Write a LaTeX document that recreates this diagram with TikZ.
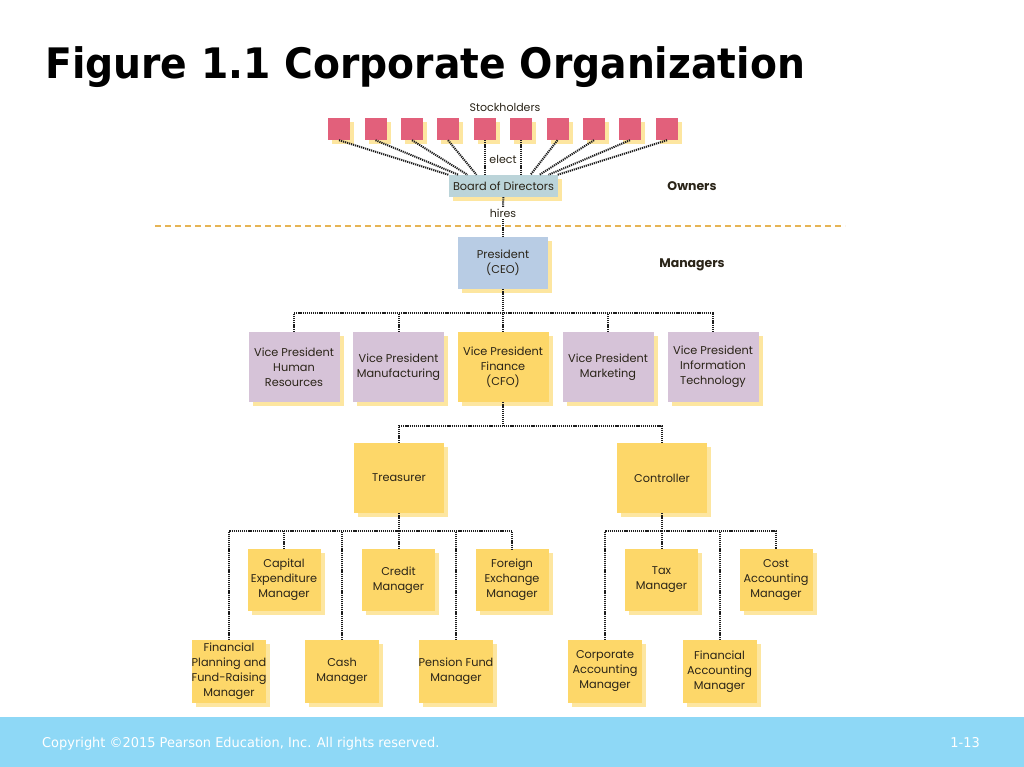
\documentclass[tikz,border=0pt]{standalone}
\usepackage{fontspec}
\setmainfont{Poppins}
\newfontfamily\titlefont{DejaVu Sans}
\newfontfamily\footfont{DejaVu Sans}
\usetikzlibrary{shadows}
\definecolor{pinksq}{HTML}{E2607B}
\definecolor{bodc}{HTML}{BBD4D9}
\definecolor{presc}{HTML}{B8CCE4}
\definecolor{vpc}{HTML}{D6C3D8}
\definecolor{yel}{HTML}{FDD769}
\definecolor{shad}{HTML}{FDE6A0}
\definecolor{dotc}{HTML}{1E1E1E}
\definecolor{dashc}{HTML}{E6B455}
\definecolor{footc}{HTML}{8ED8F6}
\definecolor{txtc}{HTML}{2A2418}
\tikzset{
  box/.style={rectangle, inner sep=0pt, align=center, text=txtc,
    font=\fontsize{11.3}{15}\selectfont,
    drop shadow={shadow xshift=4pt, shadow yshift=-4pt, fill=shad, opacity=1}},
  sq/.style={box, fill=pinksq, minimum width=22pt, minimum height=22pt},
  yelbox/.style={box, fill=yel},
  vpbox/.style={box, fill=vpc, minimum width=91pt, minimum height=70pt},
  conn/.style={draw=dotc, line width=2pt, dash pattern=on 1.2pt off 0.9pt},
  lbl/.style={inner sep=1.5pt, text=txtc, font=\fontsize{11}{13}\selectfont},
  side/.style={inner sep=0pt, text=txtc, font=\fontsize{12.5}{14}\selectfont\bfseries},
  divider/.style={draw=dashc, line width=1.3pt, dash pattern=on 6pt off 4pt}
}
\begin{document}
\begin{tikzpicture}[x=1pt, y=-1pt]
\fill[white] (0,0) rectangle (1024,767);
\useasboundingbox (0,0) rectangle (1024,767);
% footer
\fill[footc] (0,717) rectangle (1024,767);
\node[anchor=base west, inner sep=0pt, text=white] (copy) at (42,747)
  {\scalebox{0.96}[1]{\footfont\fontsize{13.5}{14}\selectfont Copyright \textcopyright2015 Pearson Education, Inc. All rights reserved.}};
\node[anchor=base east, inner sep=0pt, text=white] (pg) at (980,747)
  {\scalebox{0.96}[1]{\footfont\fontsize{13.5}{14}\selectfont 1-13}};
% title
\node[anchor=base west, inner sep=0pt] (title) at (45,79)
  {\scalebox{0.935}[1]{\titlefont\fontsize{42}{44}\selectfont\bfseries Figure 1.1 Corporate Organization}};

% divider
\coordinate (dl) at (155,226);
\coordinate (dr) at (845,226);
\draw[divider] (dl) -- (dr);

% stockholders
\node[lbl] (stk) at (505,107) {Stockholders};
\foreach \i/\x in {1/339,2/375.5,3/412,4/448,5/485,6/521,7/557.5,8/594,9/630,10/667}
  \node[sq] (s\i) at (\x,129) {};
\node[box, fill=bodc, minimum width=109pt, minimum height=22pt] (bod) at (503.5,186) {Board of Directors};
\node[lbl] (elect) at (503,159) {elect};
\node[lbl] (hires) at (503,213) {hires};
\node[box, fill=presc, minimum width=90pt, minimum height=52pt] (pres) at (503,263) {President\\(CEO)};
\node[side] (own) at (692,186) {Owners};
\node[side] (mgr) at (692,265) {Managers};

\draw[conn] (s1.south) -- ([xshift=-55pt]bod.north);
\draw[conn] (s2.south) -- ([xshift=-45pt]bod.north);
\draw[conn] (s3.south) -- ([xshift=-36pt]bod.north);
\draw[conn] (s4.south) -- ([xshift=-27pt]bod.north);
\draw[conn] (s5.south) -- ([xshift=-18.5pt]bod.north);
\draw[conn] (s6.south) -- ([xshift=17.5pt]bod.north);
\draw[conn] (s7.south) -- ([xshift=27pt]bod.north);
\draw[conn] (s8.south) -- ([xshift=36pt]bod.north);
\draw[conn] (s9.south) -- ([xshift=45pt]bod.north);
\draw[conn] (s10.south) -- ([xshift=54pt]bod.north);
\draw[conn] (bod) -- (hires);
\draw[conn] (hires) -- (pres);

% VPs
\node[vpbox] (vp1) at (294,367) {Vice President\\Human\\Resources};
\node[vpbox] (vp2) at (398.5,367) {Vice President\\Manufacturing};
\node[vpbox, fill=yel] (vp3) at (503,367) {Vice President\\Finance\\(CFO)};
\node[vpbox] (vp4) at (608,367) {Vice President\\Marketing};
\node[vpbox] (vp5) at (713,367) {Vice President\\Information\\Technology};
\coordinate (bus1) at (503,313);
\draw[conn] (pres) -- (bus1);
\draw[conn] (vp1.north) -- (vp1.north |- bus1) -- (vp5.north |- bus1) -- (vp5.north);
\draw[conn] (vp2.north) -- (vp2.north |- bus1);
\draw[conn] (vp3.north) -- (vp3.north |- bus1);
\draw[conn] (vp4.north) -- (vp4.north |- bus1);

% Treasurer / Controller
\node[yelbox, minimum width=90pt, minimum height=70pt] (tre) at (399,478) {Treasurer};
\node[yelbox, minimum width=90pt, minimum height=70pt] (con) at (662,478) {Controller};
\coordinate (bus2) at (503,426);
\draw[conn] (vp3.south) -- (bus2);
\draw[conn] (tre.north) -- (tre.north |- bus2) -- (con.north |- bus2) -- (con.north);

% managers row 1
\tikzset{m1/.style={yelbox, minimum width=73pt, minimum height=62pt},
         m2/.style={yelbox, minimum width=74pt, minimum height=63pt}}
\node[m1] (cap) at (284,580) {Capital\\Expenditure\\Manager};
\node[m1] (cred) at (398.5,580) {Credit\\Manager};
\node[m1] (fx) at (512,580) {Foreign\\Exchange\\Manager};
\node[m1] (tax) at (661.5,580) {Tax\\Manager};
\node[m1] (cost) at (776,580) {Cost\\Accounting\\Manager};
% managers row 2
\node[m2] (fp) at (229,671.5) {Financial\\Planning and\\Fund-Raising\\Manager};
\node[m2] (cash) at (342,671.5) {Cash\\Manager};
\node[m2] (pen) at (456,671.5) {Pension Fund\\Manager};
\node[m2] (corp) at (605,671.5) {Corporate\\Accounting\\Manager};
\node[m2] (facc) at (719.5,671.5) {Financial\\Accounting\\Manager};

\coordinate (bus3) at (399,531);
\draw[conn] (tre.south) -- (bus3);
\draw[conn] (fp.north) -- (fp.north |- bus3) -- (fx.north |- bus3) -- (fx.north);
\draw[conn] (cap.north) -- (cap.north |- bus3);
\draw[conn] (cred.north) -- (cred.north |- bus3);
\draw[conn] (cash.north) -- (cash.north |- bus3);
\draw[conn] (pen.north) -- (pen.north |- bus3);

\coordinate (bus4) at (662,531);
\draw[conn] (con.south) -- (bus4);
\draw[conn] (corp.north) -- (corp.north |- bus4) -- (cost.north |- bus4) -- (cost.north);
\draw[conn] (tax.north) -- (tax.north |- bus4);
\draw[conn] (facc.north) -- (facc.north |- bus4);
\end{tikzpicture}
\end{document}
